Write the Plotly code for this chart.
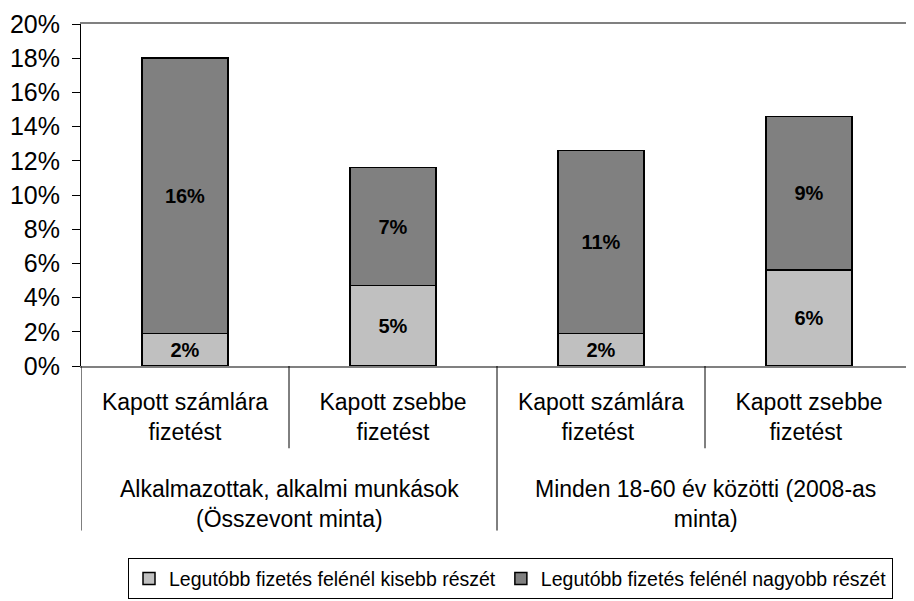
import plotly.graph_objects as go

categories = ["Kapott számlára<br>fizetést", "Kapott zsebbe<br>fizetést",
              "Kapott számlára<br>fizetést ", "Kapott zsebbe<br>fizetést "]
groups = ["Alkalmazottak, alkalmi munkások<br>(Összevont minta)",
          "Minden 18-60 év közötti (2008-as<br>minta)"]
group_members = [[0, 1], [2, 3]]
smaller = [1.9, 4.7, 1.9, 5.6]
larger = [16.1, 6.9, 10.7, 9.0]
series_names = ["Legutóbb fizetés felénél kisebb részét",
                "Legutóbb fizetés felénél nagyobb részét"]
y_ticks = [0, 2, 4, 6, 8, 10, 12, 14, 16, 18, 20]

font = "Liberation Sans, Arial, sans-serif"

# The page body has an 8px margin; the figure is sized so it ends at the window edge.
W, H = 906, 593
M_L, M_R, M_T, M_B = 73, 1, 16, 232
plot_h = H - M_T - M_B
plot_w = W - M_L - M_R

fig = go.Figure()
for vals, name, color in [(smaller, series_names[0], "#C0C0C0"),
                          (larger, series_names[1], "#808080")]:
    fig.add_trace(go.Bar(
        x=categories, y=vals, name=name,
        marker=dict(color=color, line=dict(color="black", width=1.5)),
        texttemplate="%{y:.0f}%", textposition="inside", insidetextanchor="middle",
        textangle=0,
        textfont=dict(family=font, size=20, color="black", weight="bold"),
    ))

inner_div = -83 / plot_h
outer_div = -166 / plot_h
group_label_y = -109 / plot_h

shapes = []
n = len(categories)
for g in group_members:
    for i in g[:-1]:
        shapes.append(dict(type="line", xref="x", yref="paper", x0=i + 0.5, x1=i + 0.5,
                           y0=0, y1=inner_div, line=dict(color="black", width=1)))
for g in group_members:
    b = g[0] - 0.5
    shapes.append(dict(type="line", xref="x", yref="paper", x0=b, x1=b,
                       y0=0, y1=outer_div, line=dict(color="black", width=1)))

annotations = []
for label, g in zip(groups, group_members):
    annotations.append(dict(text=label, xref="x", yref="paper",
                            x=sum(g) / len(g), y=group_label_y,
                            xanchor="center", yanchor="top", showarrow=False,
                            font=dict(family=font, size=23, color="black")))

fig.update_layout(
    template="none",
    barmode="stack", bargap=0.587,
    width=W, height=H,
    margin=dict(l=M_L, r=M_R, t=M_T, b=M_B, pad=0),
    paper_bgcolor="white", plot_bgcolor="white",
    font=dict(family=font, size=23, color="black"),
    legend=dict(orientation="h", x=47 / plot_w, y=-194 / plot_h,
                xanchor="left", yanchor="top",
                bordercolor="black", borderwidth=1, font=dict(size=19.5),
                traceorder="normal", bgcolor="white"),
    showlegend=True,
    shapes=shapes,
    annotations=annotations,
)
fig.update_xaxes(
    type="category", showline=True, linecolor="#808080", linewidth=2,
    mirror=True, ticks="", showgrid=False, automargin=False,
    tickfont=dict(size=23), ticklabelstandoff=14,
    range=[-0.5, n - 0.5],
)
fig.update_yaxes(
    range=[0, 20], tickvals=y_ticks, ticktext=[f"{v}%" for v in y_ticks],
    showline=True, linecolor="black", linewidth=1, ticks="outside", ticklen=8,
    tickcolor="black", showgrid=False, zeroline=False, tickfont=dict(size=25),
    automargin=False, ticklabelstandoff=7,
)

fig.write_html("out.html")
